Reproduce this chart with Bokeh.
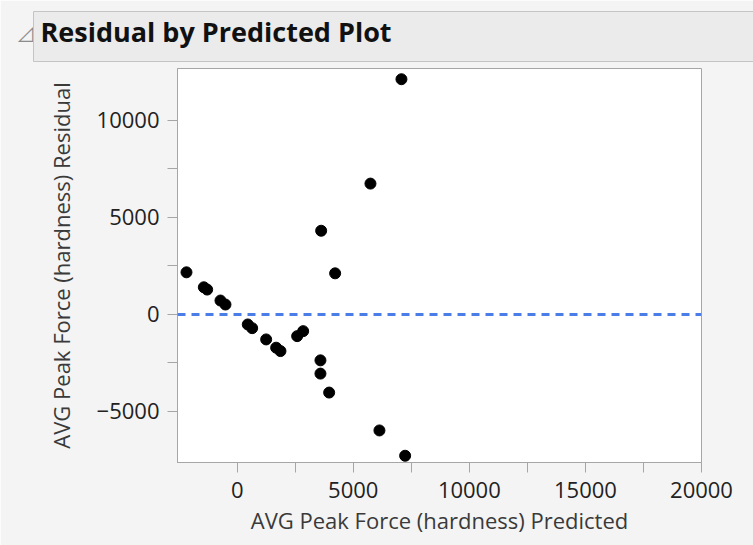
from bokeh.plotting import figure
from bokeh.models import Range1d, Span, FixedTicker, Title
from bokeh.embed import file_html
from bokeh.resources import INLINE

title_text = "Residual by Predicted Plot"
x_label = "AVG Peak Force (hardness) Predicted"
y_label = "AVG Peak Force (hardness) Residual"

predicted = [-2183, -1436, -1292, -719, -504, 457, 646, 1249, 1680, 1865, 2584, 2842,
             3587, 3587, 3962, 3618, 4220, 5741, 6128, 7076, 7235]
residual = [2174, 1403, 1285, 719, 514, -514, -704, -1285, -1711, -1886, -1115, -858,
            -2364, -3047, -4024, 4317, 2122, 6747, -5977, 12127, -7281]

x_ticks = [0, 5000, 10000, 15000, 20000]
x_minor = [2500, 7500, 12500, 17500]
y_ticks = [-5000, 0, 5000, 10000]
y_minor = [-2500, 2500, 7500]

BG = "#f4f4f4"
FONT = "Open Sans"

W, H = 753, 545
FL, FR, FT, FB = 177, 52, 68, 83   # frame borders

p = figure(width=W, height=H, x_range=Range1d(-2570, 20000), y_range=Range1d(-7629, 12680),
           output_backend="svg", toolbar_location=None,
           min_border_left=FL, min_border_right=FR, min_border_top=FT, min_border_bottom=FB,
           background_fill_color="white", border_fill_color=BG,
           outline_line_color="#a6a6a6")
p.grid.visible = False

p.title = Title(text=title_text, align="left", offset=-144, standoff=14,
                text_font=FONT, text_font_style="bold", text_font_size="27px",
                text_color="#111111",
                background_fill_color="#ebebeb", background_fill_alpha=1.0,
                border_line_color="#c4c4c4", border_line_alpha=1.0,
                padding=(7, 380, 1, 12))

# small outline-triangle icon left of the title bar
p.add_layout(Title(text="\u25fa", align="right", offset=-42, standoff=14,
                   text_font="DejaVu Sans", text_font_style="normal",
                   text_font_size="20px", text_color="#8c8c8c"), "left")

p.add_layout(Span(location=0, dimension="width", line_color="#4a7de8", line_width=3,
                  line_dash="8 6"))
p.scatter(predicted, residual, size=11, color="black")

p.xaxis.ticker = FixedTicker(ticks=x_ticks, minor_ticks=x_minor)
p.yaxis.ticker = FixedTicker(ticks=y_ticks, minor_ticks=y_minor)
p.xaxis.axis_label = x_label
p.yaxis.axis_label = y_label

for ax in (p.xaxis[0], p.yaxis[0]):
    ax.axis_line_color = "#a6a6a6"
    ax.major_tick_line_color = "#a6a6a6"
    ax.minor_tick_line_color = "#a6a6a6"
    ax.major_tick_in = 0
    ax.minor_tick_in = 0
    ax.major_tick_out = 10
    ax.minor_tick_out = 10
    ax.major_label_text_font = FONT
    ax.major_label_text_font_size = "22px"
    ax.major_label_text_color = "#222222"
    ax.axis_label_text_font = FONT
    ax.axis_label_text_font_size = "22px"
    ax.axis_label_text_font_style = "normal"
    ax.axis_label_text_color = "#3a3a3a"

p.xaxis.major_label_standoff = 9
p.xaxis.axis_label_standoff = 4
p.yaxis.major_label_standoff = 8
p.yaxis.axis_label_standoff = 18

open("out.html", "w").write(file_html(p, INLINE))
